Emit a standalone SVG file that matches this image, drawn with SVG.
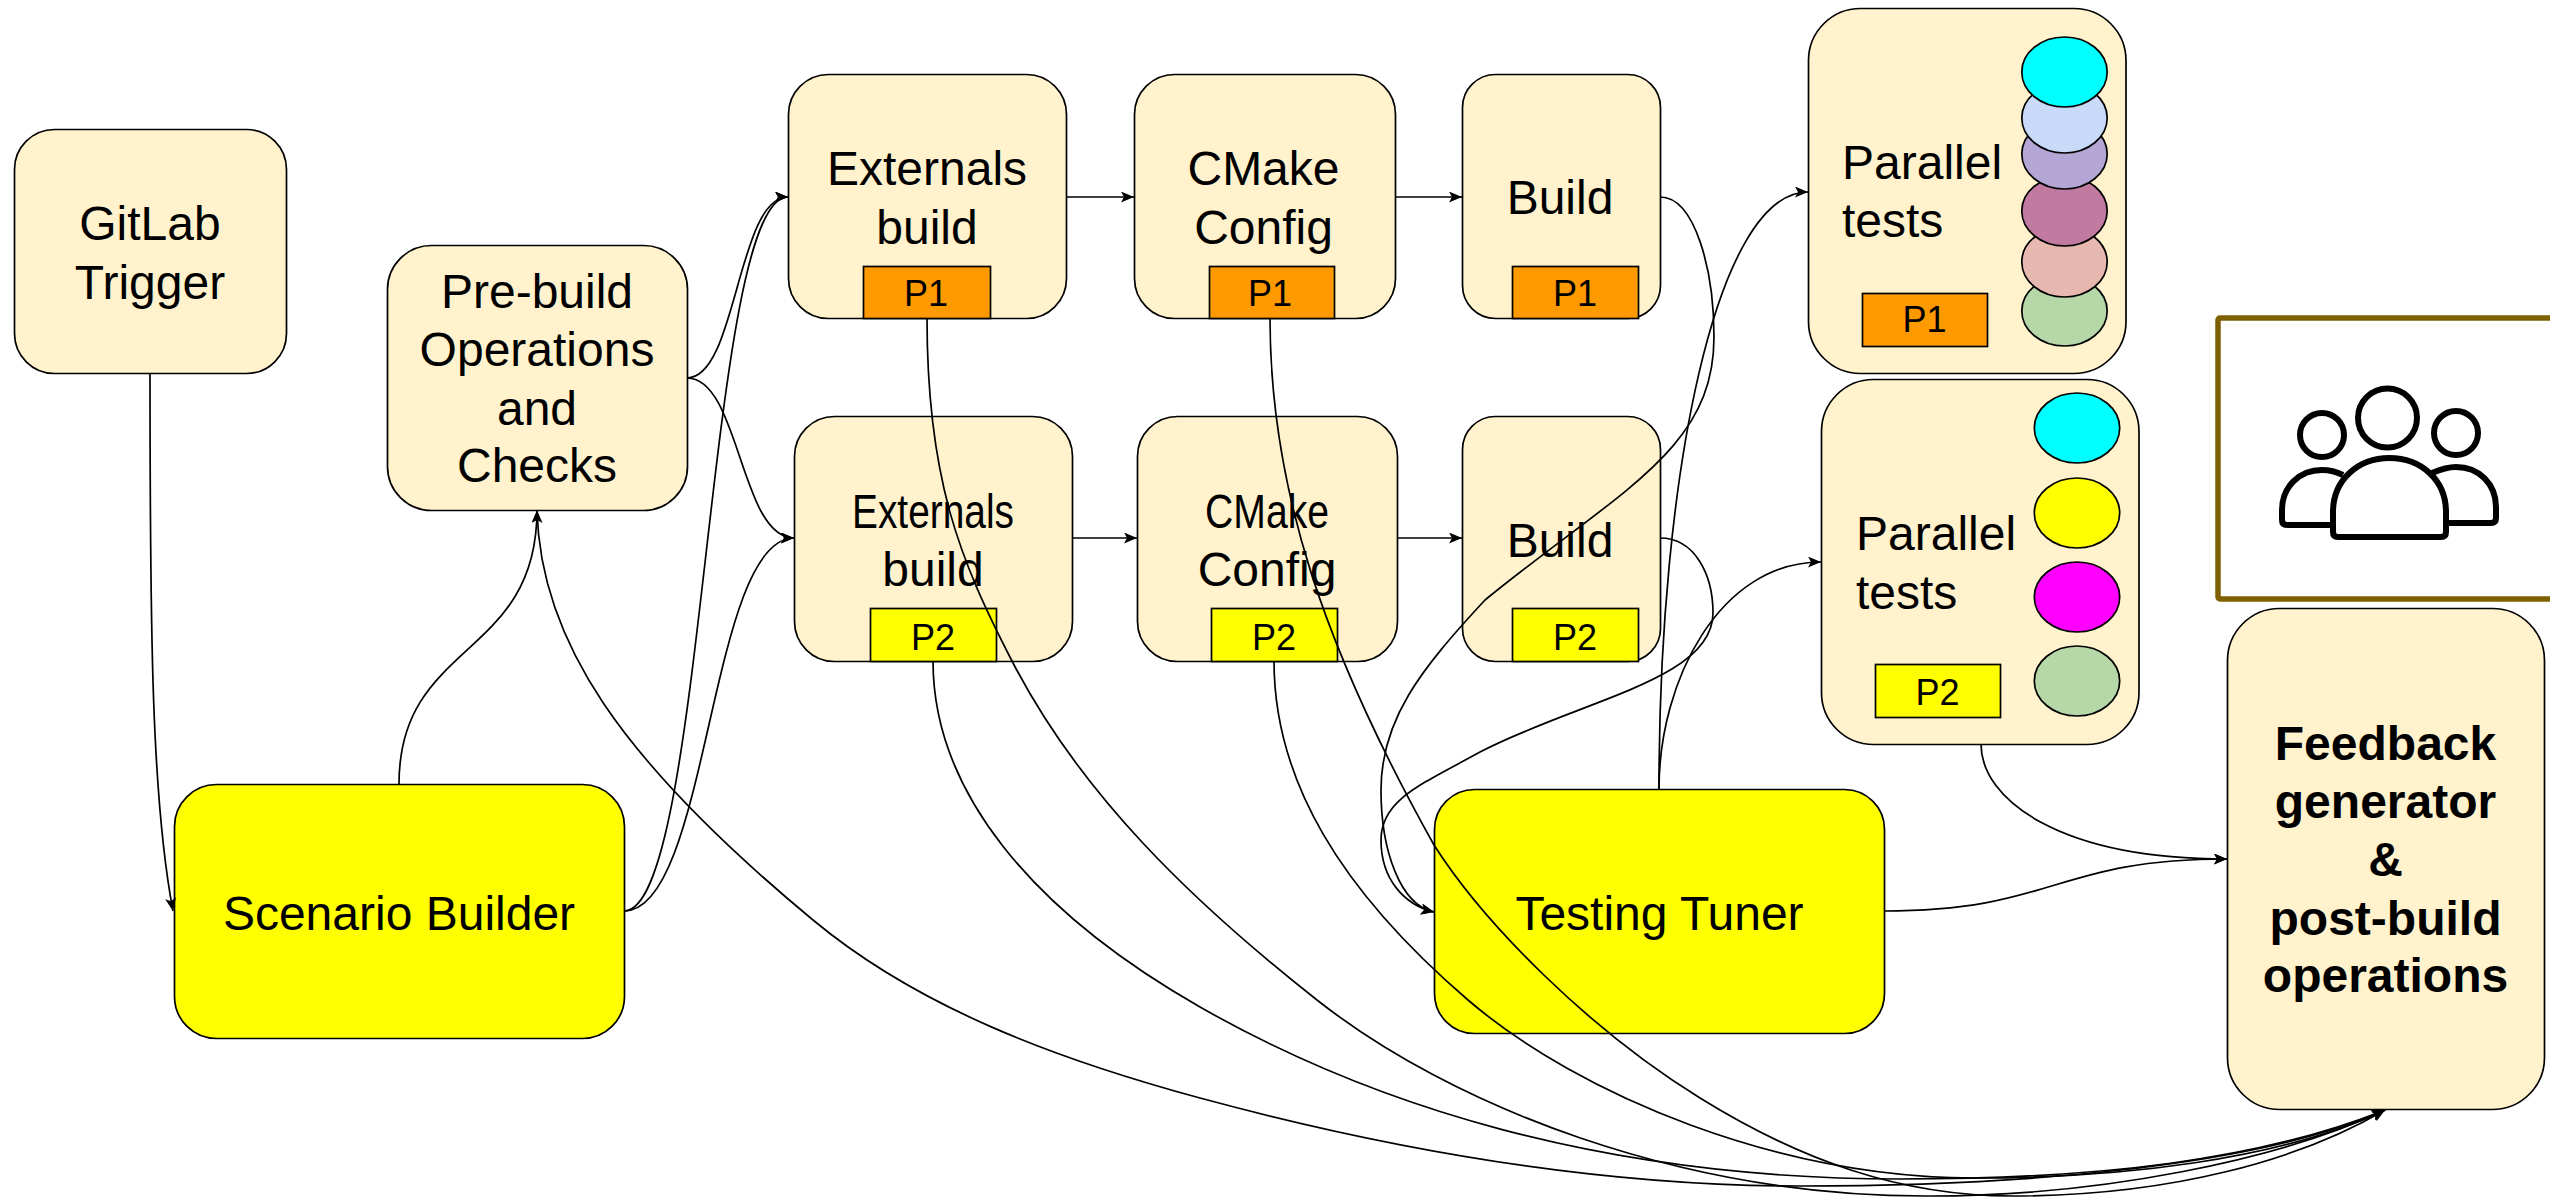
<svg xmlns="http://www.w3.org/2000/svg" width="2550" height="1197" viewBox="0 0 2550 1197">
<style>
text{font-family:"Liberation Sans",Arial,sans-serif;fill:#000;font-size:48px;text-anchor:middle}
text.s{font-size:36px}
text.l{text-anchor:start}
text.b{font-weight:bold}
.n{fill:#fff2cc;stroke:#000;stroke-width:1.7}
.y{fill:#ffff00;stroke:#000;stroke-width:1.7}
.o{fill:#ff9900;stroke:#000;stroke-width:1.7}
ellipse{stroke:#000;stroke-width:1.7}
#connectors path{fill:none;stroke:#000;stroke-width:1.7}
.ic{fill:none;stroke:#000;stroke-width:6;stroke-linejoin:round}
</style>
<defs>
<marker id="arrow" markerUnits="userSpaceOnUse" markerWidth="14" markerHeight="12" refX="13" refY="5.5" orient="auto">
<path d="M0 0L13 5.5L0 11L3 5.5Z" fill="#000"/>
</marker>
</defs>
<rect width="2550" height="1197" fill="#fff"/>

<g id="gitlab-trigger"><rect class="n" x="14.500" y="129.500" width="272" height="244" rx="40"/><text x="150" y="240">GitLab</text><text x="150" y="299">Trigger</text></g>
<g id="pre-build"><rect class="n" x="387.500" y="245.500" width="300" height="265" rx="44"/><text x="537" y="308">Pre-build</text><text x="537" y="366">Operations</text><text x="537" y="425">and</text><text x="537" y="482">Checks</text></g>

<g id="externals-p1"><rect class="n" x="788.500" y="74.500" width="278" height="244" rx="40"/><text x="927" y="185">Externals</text><text x="927" y="244">build</text><rect class="o" x="863.500" y="266.500" width="127" height="52"/><text class="s" x="926" y="306">P1</text></g>
<g id="cmake-p1"><rect class="n" x="1134.500" y="74.500" width="261" height="244" rx="40"/><text x="1263.500" y="185">CMake</text><text x="1263.500" y="244">Config</text><rect class="o" x="1209.500" y="266.500" width="125" height="52"/><text class="s" x="1270" y="306">P1</text></g>
<g id="build-p1"><rect class="n" x="1462.500" y="74.500" width="198" height="244" rx="33"/><text x="1560" y="214">Build</text><rect class="o" x="1512.500" y="266.500" width="126" height="52"/><text class="s" x="1575" y="306">P1</text></g>

<g id="externals-p2"><rect class="n" x="794.500" y="416.500" width="278" height="245" rx="40"/><text x="933" y="528" textLength="162" lengthAdjust="spacingAndGlyphs">Externals</text><text x="933" y="586">build</text><rect class="y" x="870.500" y="608.500" width="126" height="53"/><text class="s" x="933" y="650">P2</text></g>
<g id="cmake-p2"><rect class="n" x="1137.500" y="416.500" width="260" height="245" rx="40"/><text x="1267" y="528" textLength="124" lengthAdjust="spacingAndGlyphs">CMake</text><text x="1267" y="586">Config</text><rect class="y" x="1211.500" y="608.500" width="126" height="53"/><text class="s" x="1274" y="650">P2</text></g>
<g id="build-p2"><rect class="n" x="1462.500" y="416.500" width="198" height="245" rx="33"/><text x="1560" y="557">Build</text><rect class="y" x="1512.500" y="608.500" width="126" height="53"/><text class="s" x="1575" y="650">P2</text></g>

<g id="parallel-p1"><rect class="n" x="1808.500" y="8.500" width="317.500" height="365" rx="52"/><text class="l" x="1842" y="179">Parallel</text><text class="l" x="1842" y="237">tests</text>
<ellipse cx="2064.500" cy="311" rx="42.7" ry="35" fill="#b6d7a8"/><ellipse cx="2064.500" cy="262" rx="42.7" ry="35" fill="#e6b8af"/><ellipse cx="2064.500" cy="211" rx="42.7" ry="35" fill="#c27ba0"/><ellipse cx="2064.500" cy="154" rx="42.7" ry="35" fill="#b4a7d6"/><ellipse cx="2064.500" cy="118" rx="42.7" ry="35" fill="#c9daf8"/><ellipse cx="2064.500" cy="72" rx="42.7" ry="35" fill="#00ffff"/>
<rect class="o" x="1862.500" y="293.500" width="125" height="53"/><text class="s" x="1924.500" y="332">P1</text></g>

<g id="parallel-p2"><rect class="n" x="1821.500" y="379.500" width="317.500" height="365" rx="52"/><text class="l" x="1856" y="550">Parallel</text><text class="l" x="1856" y="609">tests</text>
<ellipse cx="2077" cy="428" rx="42.7" ry="35" fill="#00ffff"/><ellipse cx="2077" cy="513" rx="42.7" ry="35" fill="#ffff00"/><ellipse cx="2077" cy="597" rx="42.7" ry="35" fill="#ff00ff"/><ellipse cx="2077" cy="681" rx="42.7" ry="35" fill="#b6d7a8"/>
<rect class="y" x="1875.500" y="664.500" width="125" height="53"/><text class="s" x="1937.500" y="705">P2</text></g>

<g id="people-panel"><rect x="2218" y="318" width="420" height="281" rx="2" fill="#fff" stroke="#7f6000" stroke-width="5.5"/>
<circle class="ic" cx="2322" cy="435" r="22"/><circle class="ic" cx="2456" cy="433" r="22"/><circle class="ic" cx="2387.500" cy="418" r="29.5"/>
<path class="ic" d="M2343 475C2337 472 2330 470 2322 470C2299 470 2282 487 2282 510V520Q2282 525 2287 525H2332"/>
<path class="ic" d="M2432 473C2439 470 2447 467 2456 467C2479 467 2496 484 2496 507V518Q2496 523 2491 523H2448"/>
<path class="ic" d="M2338 537Q2333 537 2333 532V512C2333 480 2358 458 2389.500 458C2421 458 2446 480 2446 512V532Q2446 537 2441 537Z"/></g>

<g id="feedback"><rect class="n" x="2227.500" y="608.500" width="317" height="501" rx="52"/><text class="b" x="2385.500" y="760">Feedback</text><text class="b" x="2385.500" y="818">generator</text><text class="b" x="2385.500" y="876">&amp;</text><text class="b" x="2385.500" y="935">post-build</text><text class="b" x="2385.500" y="992">operations</text></g>

<g id="scenario-builder"><rect class="y" x="174.500" y="784.500" width="450" height="254" rx="42"/><text x="399" y="930">Scenario Builder</text></g>
<g id="testing-tuner"><rect class="y" x="1434.500" y="789.500" width="450" height="244" rx="40"/><text x="1659.500" y="930">Testing Tuner</text></g>

<g id="connectors">
<path marker-end="url(#arrow)" d="M150 373C150 640 152 800 173 911"/>
<path marker-end="url(#arrow)" d="M399 784C399 640 537 660 537 510"/>
<path marker-end="url(#arrow)" d="M624 911C706 911 706 197 788 197"/>
<path marker-end="url(#arrow)" d="M624 911C709 911 709 538 794 538"/>
<path marker-end="url(#arrow)" d="M687 378C737 378 737 197 788 197"/>
<path marker-end="url(#arrow)" d="M687 378C740 378 740 538 794 538"/>
<path marker-end="url(#arrow)" d="M1066 197H1134"/>
<path marker-end="url(#arrow)" d="M1395 197H1462"/>
<path marker-end="url(#arrow)" d="M1072 538H1137"/>
<path marker-end="url(#arrow)" d="M1397 538H1462"/>
<path marker-end="url(#arrow)" d="M1660 197C1695 197 1714 270 1714 337C1714 450 1620 490 1485 600C1420 670 1381 720 1381 790C1381 850 1400 905 1434 912"/>
<path marker-end="url(#arrow)" d="M1660 538C1695 538 1713 575 1713 613C1713 680 1580 700 1480 752C1420 785 1381 800 1381 840C1381 880 1405 905 1434 912"/>
<path marker-end="url(#arrow)" d="M1659 789C1659 480 1715 192 1808 192"/>
<path marker-end="url(#arrow)" d="M1659 789C1659 680 1720 562 1821 562"/>
<path marker-end="url(#arrow)" d="M1884 911C2055 911 2055 859 2227 859"/>
<path marker-end="url(#arrow)" d="M1981 744C1981 800 2060 859 2227 859"/>
<path marker-end="url(#arrow)" d="M537 510C540 640 620 760 813 920C920 1009 1060 1060 1200 1098C1400 1152 1600 1186 1800 1186C2000 1186 2250 1170 2385 1110"/>
<path marker-end="url(#arrow)" d="M933 661C933 790 1030 910 1200 1007C1370 1104 1600 1179 1900 1179C2100 1179 2260 1160 2385 1110"/>
<path marker-end="url(#arrow)" d="M927 318C927 480 960 560 1012 661C1080 793 1190 900 1317 1000C1450 1105 1680 1197 1930 1196C2100 1196 2280 1160 2385 1110"/>
<path marker-end="url(#arrow)" d="M1274 661C1274 780 1340 890 1468 1000C1580 1096 1780 1178 1975 1178C2120 1178 2280 1160 2385 1110"/>
<path marker-end="url(#arrow)" d="M1270 318C1270 490 1325 650 1434 845C1485 925 1590 1030 1700 1098C1800 1160 1900 1196 2012 1196C2170 1196 2300 1160 2385 1110"/>
</g>
</svg>
